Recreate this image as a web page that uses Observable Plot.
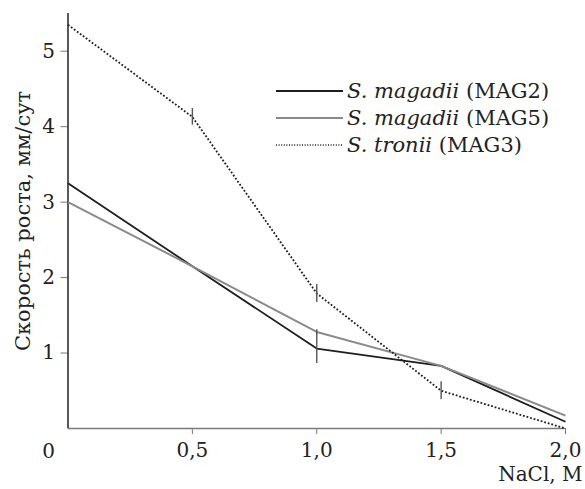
<!DOCTYPE html>
<html>
<head>
<meta charset="utf-8">
<script src="https://cdn.jsdelivr.net/npm/d3@7"></script>
<script src="https://cdn.jsdelivr.net/npm/@observablehq/plot@0.6"></script>
<style>
  html, body { margin: 0; padding: 0; background: #fff; }
  #wrap { position: relative; width: 585px; height: 489px; font-family: "DejaVu Serif", serif; color: #222; }
  #legend { position: absolute; left: 276px; top: 77px; font-size: 21px; }
  #legend .row { display: flex; align-items: center; height: 27px; white-space: nowrap; }
  #legend svg { margin-right: 4px; }
  #legend i { font-style: italic; }
</style>
</head>
<body>
<div id="wrap"></div>
<script>
// ---- data ----
const nacl = [0, 0.5, 1.0, 1.5, 2.0];
const mag2 = [3.25, 2.15, 1.06, 0.83, 0.09];
const mag5 = [3.00, 2.15, 1.28, 0.83, 0.17];
const mag3 = [5.35, 4.13, 1.79, 0.50, 0.00];
const mag2Err = [0, 0, 0.20, 0, 0];
const mag5Err = [0, 0, 0.03, 0, 0];
const mag3Err = [0, 0.11, 0.12, 0.12, 0];
const strainIds = ["MAG2", "MAG5", "MAG3"];
const speciesNames = ["S. magadii", "S. magadii", "S. tronii"];
const xTicks = [0.5, 1.0, 1.5, 2.0];
const yTicks = [1, 2, 3, 4, 5];
const xZeroLabel = "0";
const xTitle = "NaCl, M";
const yTitle = "Скорость роста, мм/сут";

// ---- styles ----
const lineStyles = [
  {stroke: "#1e1e1e", strokeWidth: 1.8, dash: null, legendDash: null},
  {stroke: "#8a8a8a", strokeWidth: 2.0, dash: null, legendDash: null},
  {stroke: "#1e1e1e", strokeWidth: 1.8, dash: "1.8,1.9", legendDash: "1,1.6"}
];

const seriesValues = [mag2, mag5, mag3];
const seriesErrs = [mag2Err, mag5Err, mag3Err];
const rows = [];
const errRows = [];
seriesValues.forEach((vals, s) => {
  vals.forEach((v, i) => {
    rows.push({series: strainIds[s], x: nacl[i], y: v});
    const e = seriesErrs[s][i];
    if (e > 0) errRows.push({x: nacl[i], lo: v - e, hi: v + e});
  });
});

const fmtX = d => d3.format(".1f")(d).replace(".", ",");
const fmtY = d => String(d);
const font = '"DejaVu Serif", serif';

const lineMarks = strainIds.map((id, s) => Plot.line(rows.filter(r => r.series === id), {
  x: "x", y: "y",
  stroke: lineStyles[s].stroke,
  strokeWidth: lineStyles[s].strokeWidth,
  strokeDasharray: lineStyles[s].dash,
  strokeLinecap: "butt",
  strokeLinejoin: "miter"
}));

const chart = Plot.plot({
  width: 585,
  height: 489,
  marginLeft: 67.5,
  marginRight: 20,
  marginTop: 13,
  marginBottom: 61,
  style: {fontFamily: font, fontSize: "20px", color: "#222", background: "#fff"},
  x: {domain: [0, 2]},
  y: {domain: [0, 5.5]},
  marks: [
    Plot.axisY(yTicks, {tickSize: 7, tickPadding: 6, stroke: "#777", fill: "#222", label: null, tickFormat: fmtY, fontSize: 20}),
    Plot.axisX(xTicks, {tickSize: 6, tickPadding: 8, stroke: "#777", fill: "#222", label: null, tickFormat: fmtX, fontSize: 20}),
    Plot.ruleX([0], {stroke: "#222", strokeWidth: 1.5}),
    Plot.ruleY([0], {stroke: "#7a7a7a", strokeWidth: 1.6}),
    ...lineMarks,
    Plot.ruleX(errRows, {x: "x", y1: "lo", y2: "hi", stroke: "#555", strokeWidth: 1.4}),
    Plot.text([xZeroLabel], {x: () => 0, y: () => 0, text: d => d, dx: -19.5, dy: 23, fontSize: 20, fill: "#222"}),
    Plot.text([xTitle], {frameAnchor: "bottom-right", text: d => d, dx: 17, dy: 52, textAnchor: "end", fontSize: 20, fill: "#222"}),
    Plot.text([yTitle], {frameAnchor: "left", text: d => d, dx: -45, rotate: -90, textAnchor: "middle", fontSize: 21, fill: "#222"})
  ]
});

const wrap = document.getElementById("wrap");
wrap.appendChild(chart);

// ---- legend ----
const legend = document.createElement("div");
legend.id = "legend";
strainIds.forEach((id, s) => {
  const row = document.createElement("div");
  row.className = "row";
  const st = lineStyles[s];
  row.innerHTML = `<svg width="67" height="10"><line x1="0" x2="67" y1="5" y2="5" stroke="${st.stroke}" stroke-width="${st.legendDash ? 1.5 : st.strokeWidth}" ${st.legendDash ? `stroke-dasharray="${st.legendDash}"` : ""}/></svg><span><i>${speciesNames[s]}</i> (${id})</span>`;
  legend.appendChild(row);
});
wrap.appendChild(legend);
</script>
</body>
</html>
